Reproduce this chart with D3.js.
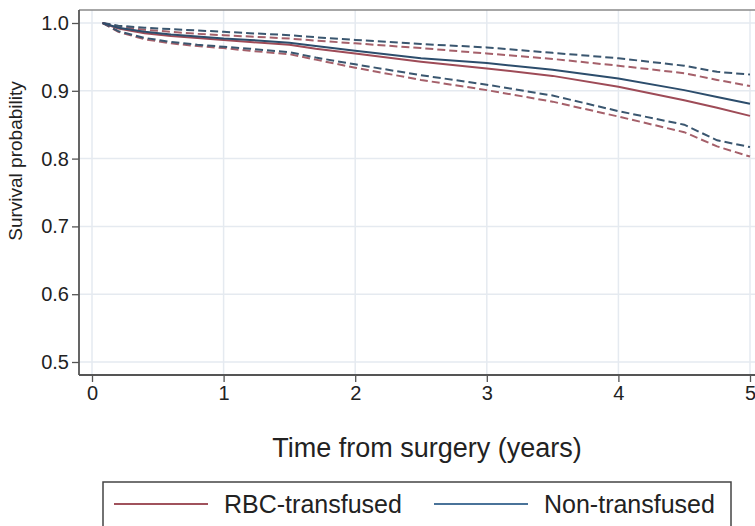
<!DOCTYPE html>
<html>
<head>
<meta charset="utf-8">
<script src="https://cdn.jsdelivr.net/npm/d3@7"></script>
<style>
  body { margin: 0; background: #fff; }
  svg { display: block; }
  text { font-family: "Liberation Sans", Arial, sans-serif; fill: #222; }
</style>
</head>
<body>
<div id="content"></div>
<script>
// time points (years) and survival estimates
var times     = [0.08, 0.2,   0.4,   0.6,   0.8,   1.0,   1.2,   1.5,   1.7,   2.0,   2.5,   3.0,   3.5,   4.0,   4.5,   4.75,  5.0];
var rbc       = [1.0,  0.992, 0.985, 0.981, 0.978, 0.975, 0.972, 0.968, 0.962, 0.955, 0.943, 0.933, 0.922, 0.906, 0.886, 0.875, 0.863];
var rbcUpper  = [1.0,  0.995, 0.990, 0.987, 0.984, 0.982, 0.980, 0.977, 0.974, 0.970, 0.963, 0.955, 0.947, 0.937, 0.926, 0.916, 0.907];
var rbcLower  = [1.0,  0.987, 0.976, 0.970, 0.966, 0.963, 0.959, 0.954, 0.946, 0.934, 0.916, 0.901, 0.884, 0.862, 0.839, 0.818, 0.803];
var non       = [1.0,  0.993, 0.987, 0.983, 0.980, 0.977, 0.975, 0.971, 0.966, 0.959, 0.948, 0.941, 0.931, 0.918, 0.901, 0.891, 0.881];
var nonUpper  = [1.0,  0.996, 0.993, 0.991, 0.989, 0.987, 0.985, 0.982, 0.979, 0.975, 0.969, 0.964, 0.956, 0.948, 0.937, 0.928, 0.924];
var nonLower  = [1.0,  0.988, 0.978, 0.972, 0.968, 0.965, 0.962, 0.957, 0.949, 0.939, 0.923, 0.909, 0.893, 0.870, 0.850, 0.827, 0.817];

var xTicks = [0, 1, 2, 3, 4, 5];
var yTicks = [0.5, 0.6, 0.7, 0.8, 0.9, 1.0];
var legendLabels = ['RBC-transfused', 'Non-transfused'];

var red = '#9e4b57';
var blue = '#2c4d6c';

var W = 755, H = 526;

// plot frame (runs past the right edge of the picture)
var frame = {left: 79, right: 766, top: 10, bottom: 375};

var x = d3.scaleLinear().domain([0, 5]).range([92, 750]);
var y = d3.scaleLinear().domain([0.5, 1.0]).range([362, 23]);

var svg = d3.select('#content')
    .append('svg')
    .attr('width', W)
    .attr('height', H);

// Grid lines
svg.append('g')
    .selectAll('line')
    .data(xTicks)
    .enter().append('line')
    .attr('x1', function(d) { return x(d); })
    .attr('x2', function(d) { return x(d); })
    .attr('y1', frame.top)
    .attr('y2', frame.bottom)
    .attr('stroke', '#e5eaf0')
    .attr('stroke-width', 1.5);

svg.append('g')
    .selectAll('line')
    .data(yTicks)
    .enter().append('line')
    .attr('x1', frame.left)
    .attr('x2', frame.right)
    .attr('y1', function(d) { return y(d); })
    .attr('y2', function(d) { return y(d); })
    .attr('stroke', '#e5eaf0')
    .attr('stroke-width', 1.5);

// top border
svg.append('line')
    .attr('x1', frame.left).attr('x2', frame.right)
    .attr('y1', frame.top).attr('y2', frame.top)
    .attr('stroke', '#8a8a8a')
    .attr('stroke-width', 1.5);

// Lines
function makeLine(vals) {
  return d3.line()
      .x(function(d, i) { return x(times[i]); })
      .y(function(d) { return y(d); })(vals);
}

var series = [
  {vals: rbcUpper, color: '#a5606a', dash: '8,4'},
  {vals: rbcLower, color: '#a5606a', dash: '8,4'},
  {vals: nonUpper, color: '#3a566f', dash: '8,4'},
  {vals: nonLower, color: '#3a566f', dash: '8,4'},
  {vals: rbc, color: red, dash: null},
  {vals: non, color: blue, dash: null}
];

series.forEach(function(s) {
  svg.append('path')
      .attr('d', makeLine(s.vals))
      .attr('fill', 'none')
      .attr('stroke', s.color)
      .attr('stroke-width', 2)
      .attr('stroke-dasharray', s.dash);
});

// Axes
var xAxis = svg.append('g')
    .attr('transform', 'translate(0,' + frame.bottom + ')')
    .call(d3.axisBottom(x).tickValues(xTicks).tickSize(7).tickPadding(4).tickFormat(d3.format('d')));

var yAxis = svg.append('g')
    .attr('transform', 'translate(' + frame.left + ',0)')
    .call(d3.axisLeft(y).tickValues(yTicks).tickSize(7).tickPadding(3).tickFormat(d3.format('.1f')));

[xAxis, yAxis].forEach(function(a) {
  a.select('.domain').remove();
  a.selectAll('line').attr('stroke', '#555').attr('stroke-width', 1.3);
  a.selectAll('text')
      .style('font-family', '"Liberation Sans", Arial, sans-serif')
      .style('font-size', '20px')
      .attr('fill', '#333');
});

// spines
svg.append('line')
    .attr('x1', frame.left).attr('x2', frame.left)
    .attr('y1', frame.top).attr('y2', frame.bottom)
    .attr('stroke', '#555').attr('stroke-width', 1.8);
svg.append('line')
    .attr('x1', frame.left).attr('x2', frame.right)
    .attr('y1', frame.bottom).attr('y2', frame.bottom)
    .attr('stroke', '#555').attr('stroke-width', 1.8);

// Axis titles
svg.append('text')
    .attr('transform', 'translate(22,161) rotate(-90)')
    .style('text-anchor', 'middle')
    .style('font-size', '19px')
    .attr('fill', '#333')
    .text('Survival probability');

svg.append('text')
    .attr('x', 427)
    .attr('y', 457)
    .style('text-anchor', 'middle')
    .style('font-size', '27px')
    .text('Time from surgery (years)');

// Legend
svg.append('rect')
    .attr('x', 103).attr('y', 482)
    .attr('width', 628).attr('height', 60)
    .attr('fill', 'none')
    .attr('stroke', '#444')
    .attr('stroke-width', 1.5);

var legendColors = ['#a0525c', '#4a7399'];
var legendX = [114, 434];

legendLabels.forEach(function(lbl, i) {
  svg.append('line')
      .attr('x1', legendX[i]).attr('x2', legendX[i] + 94)
      .attr('y1', 504).attr('y2', 504)
      .attr('stroke', legendColors[i])
      .attr('stroke-width', 1.8);
  svg.append('text')
      .attr('x', legendX[i] + 110)
      .attr('y', 513)
      .style('font-size', '25px')
      .text(lbl);
});
</script>
</body>
</html>
